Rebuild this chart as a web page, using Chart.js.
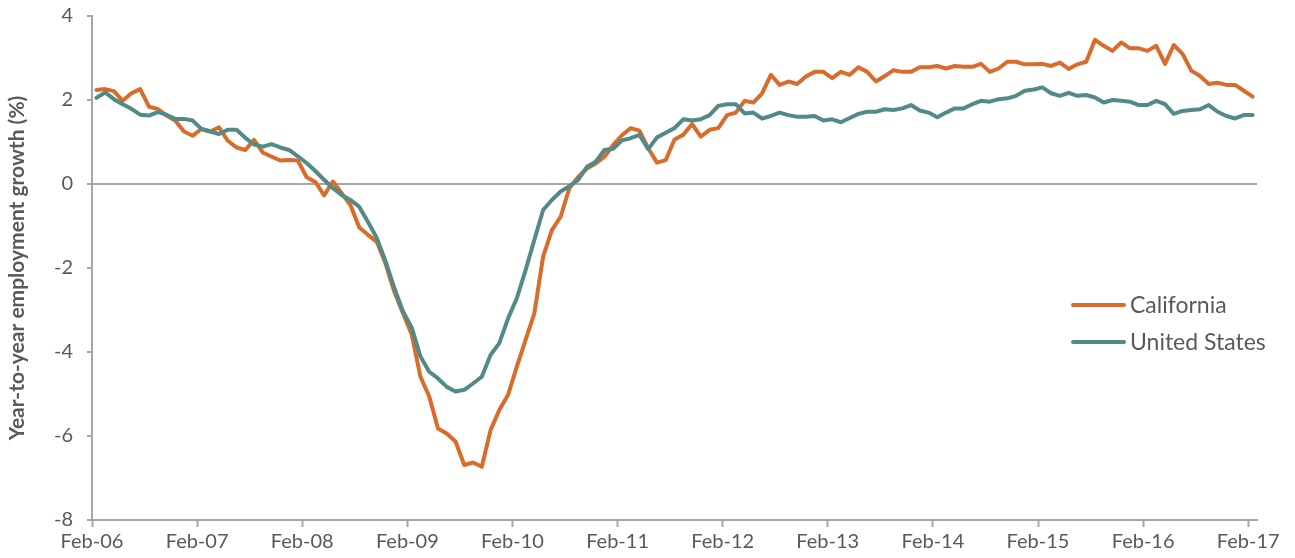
<!DOCTYPE html>
<html>
<head>
<meta charset="utf-8">
<script src="https://cdn.jsdelivr.net/npm/chart.js@4.4.1/dist/chart.umd.min.js"></script>
<style>
  html, body { margin: 0; padding: 0; background: #fff; }
</style>
</head>
<body>
<canvas id="empChart" width="1295" height="558"></canvas>
<script>
// monthly year-to-year employment growth, Feb-06 .. Feb-17
const california = [
  2.24, 2.26, 2.21, 1.98, 2.16, 2.26, 1.84, 1.79, 1.63, 1.51,
  1.25, 1.15, 1.31, 1.25, 1.35, 1.03, 0.87, 0.81, 1.05, 0.75,
  0.65, 0.56, 0.57, 0.56, 0.16, 0.05, -0.27, 0.06, -0.22, -0.5,
  -1.03, -1.21, -1.37, -1.89, -2.56, -3.08, -3.58, -4.59, -5.06, -5.82,
  -5.94, -6.13, -6.69, -6.63, -6.73, -5.86, -5.38, -5.02, -4.35, -3.71,
  -3.08, -1.73, -1.1, -0.78, -0.1, 0.17, 0.37, 0.49, 0.65, 0.93,
  1.16, 1.33, 1.27, 0.85, 0.51, 0.57, 1.06, 1.17, 1.43, 1.13,
  1.29, 1.33, 1.64, 1.7, 1.98, 1.94, 2.16, 2.6, 2.36, 2.44,
  2.38, 2.56, 2.67, 2.67, 2.52, 2.67, 2.6, 2.78, 2.67, 2.44,
  2.57, 2.71, 2.67, 2.67, 2.78, 2.78, 2.81, 2.75, 2.81, 2.79,
  2.79, 2.86, 2.67, 2.75, 2.91, 2.91, 2.85, 2.85, 2.86, 2.81,
  2.89, 2.74, 2.85, 2.91, 3.43, 3.29, 3.17, 3.37, 3.23, 3.23,
  3.17, 3.29, 2.86, 3.31, 3.1, 2.7, 2.57, 2.38, 2.41, 2.36,
  2.36, 2.22, 2.08
];

const unitedStates = [
  2.05, 2.18, 2.02, 1.9, 1.79, 1.65, 1.63, 1.71, 1.65, 1.55,
  1.55, 1.51, 1.31, 1.25, 1.19, 1.29, 1.29, 1.1, 0.94, 0.89,
  0.95, 0.87, 0.81, 0.66, 0.5, 0.31, 0.1, -0.1, -0.26, -0.38,
  -0.54, -0.9, -1.28, -1.83, -2.47, -3.03, -3.42, -4.11, -4.47, -4.63,
  -4.83, -4.94, -4.9, -4.75, -4.59, -4.07, -3.79, -3.2, -2.72, -2.05,
  -1.33, -0.62, -0.38, -0.18, -0.05, 0.1, 0.41, 0.53, 0.81, 0.84,
  1.04, 1.09, 1.17, 0.83, 1.11, 1.22, 1.33, 1.54, 1.51, 1.54,
  1.64, 1.86, 1.9, 1.9, 1.68, 1.7, 1.56, 1.62, 1.7, 1.64,
  1.6, 1.6, 1.62, 1.51, 1.54, 1.47, 1.57, 1.67, 1.72, 1.72,
  1.78, 1.76, 1.8, 1.88, 1.75, 1.7, 1.59, 1.7, 1.8, 1.8,
  1.9, 1.98, 1.96, 2.02, 2.04, 2.1, 2.22, 2.25, 2.3, 2.16,
  2.1, 2.17, 2.1, 2.12, 2.06, 1.94, 2.0, 1.98, 1.96, 1.88,
  1.88, 1.98, 1.9, 1.67, 1.74, 1.76, 1.78, 1.88, 1.72, 1.62,
  1.56, 1.64, 1.64
];

const tickLabels = ['Feb-06', 'Feb-07', 'Feb-08', 'Feb-09', 'Feb-10', 'Feb-11',
  'Feb-12', 'Feb-13', 'Feb-14', 'Feb-15', 'Feb-16', 'Feb-17'];

const seriesNames = ['California', 'United States'];

const textGray = '#595959';
const axisGray = '#a6a6a6';
const fontFamily = 'Lato, "Open Sans", sans-serif';

// legend drawn inside the plot, right side
const sideLegend = {
  id: 'sideLegend',
  afterDraw(chart) {
    const c = chart.ctx;
    chart.data.datasets.forEach((ds, i) => {
      const y = 305 + i * 37;
      c.save();
      c.strokeStyle = ds.borderColor;
      c.lineWidth = 4;
      c.lineCap = 'round';
      c.beginPath();
      c.moveTo(1073, y);
      c.lineTo(1124, y);
      c.stroke();
      c.fillStyle = textGray;
      c.font = '23px ' + fontFamily;
      c.textBaseline = 'middle';
      c.fillText(ds.label, 1130, y + 1);
      c.restore();
    });
  }
};

const ctx = document.getElementById('empChart').getContext('2d');
new Chart(ctx, {
  type: 'line',
  data: {
    datasets: [
      {
        label: seriesNames[0],
        data: california.map((v, i) => ({ x: i, y: v })),
        borderColor: '#d96b2b',
        order: 1
      },
      {
        label: seriesNames[1],
        data: unitedStates.map((v, i) => ({ x: i, y: v })),
        borderColor: '#528a87',
        order: 0
      }
    ]
  },
  options: {
    responsive: false,
    animation: false,
    layout: { padding: { top: 16, right: 38, bottom: 0, left: 0 } },
    elements: {
      line: { borderWidth: 4, tension: 0, borderJoinStyle: 'round', borderCapStyle: 'round', fill: false },
      point: { radius: 0 }
    },
    plugins: {
      legend: { display: false },
      tooltip: { enabled: false }
    },
    scales: {
      x: {
        type: 'linear',
        min: -0.5,
        max: 132.5,
        afterBuildTicks: axis => {
          axis.ticks = tickLabels.map((t, k) => ({ value: -0.5 + 12 * k }));
        },
        afterFit: s => { s.height = 38; },
        ticks: {
          autoSkip: false,
          maxRotation: 0,
          padding: 3,
          color: textGray,
          font: { family: fontFamily, size: 20 },
          callback: (v, idx) => tickLabels[idx]
        },
        grid: { drawOnChartArea: false, tickLength: 7, tickColor: axisGray, tickWidth: 2 },
        border: { color: axisGray, width: 2 }
      },
      y: {
        min: -8,
        max: 4,
        afterFit: s => { s.width = 92; s.paddingTop = 0; s.paddingBottom = 0; },
        ticks: {
          stepSize: 2,
          padding: 14,
          color: textGray,
          font: { family: fontFamily, size: 20 }
        },
        grid: {
          color: c => (c.tick && c.tick.value === 0) ? axisGray : 'rgba(0,0,0,0)',
          lineWidth: 2,
          tickLength: 5,
          tickColor: axisGray,
          tickWidth: 2
        },
        border: { color: axisGray, width: 2 },
        title: {
          display: true,
          text: 'Year-to-year employment growth (%)',
          color: textGray,
          font: { family: fontFamily, size: 21, weight: 'bold' },
          padding: { top: 5, bottom: 0 }
        }
      }
    }
  },
  plugins: [sideLegend]
});
</script>
</body>
</html>
